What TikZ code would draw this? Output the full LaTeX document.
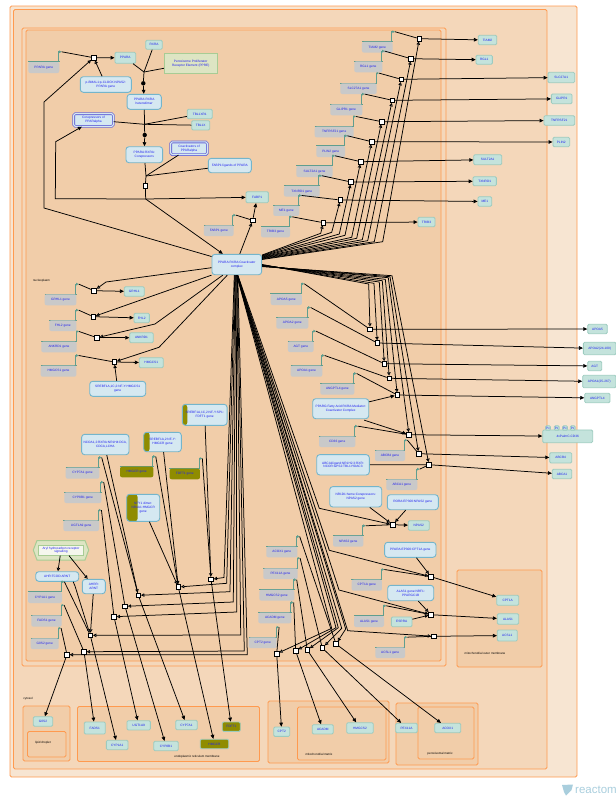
\documentclass[tikz,border=0pt]{standalone}
\usepackage{fontspec}
\setmainfont{Liberation Sans}
\usetikzlibrary{arrows.meta}

\definecolor{compline}{HTML}{FF9A4F}
\definecolor{compa}{HTML}{F7E5D2}
\definecolor{compb}{HTML}{F4D7BA}
\definecolor{compc}{HTML}{F1CDA9}
\definecolor{protfill}{HTML}{C4E3DC}
\definecolor{protline}{HTML}{9CCBBF}
\definecolor{cplxfill}{HTML}{D5E8F1}
\definecolor{cplxline}{HTML}{74B5CB}
\definecolor{setline}{HTML}{6A6AD8}
\definecolor{genefill}{HTML}{C9C9C9}
\definecolor{geneline}{HTML}{5F9E8F}
\definecolor{textblue}{HTML}{2020F0}
\definecolor{oliveband}{HTML}{8F8C00}
\definecolor{elemfill}{HTML}{DDE5C3}
\definecolor{elemline}{HTML}{A8CC94}
\definecolor{logoblue}{HTML}{A9CEDD}
\newcommand{\entityfont}{\fontsize{3.2}{3.9}\selectfont}
\newcommand{\compfont}{\fontsize{3}{3.6}\selectfont}

\begin{document}
\begin{tikzpicture}[
  x=1pt,y=-1pt,
  >={Triangle[length=4pt,width=3.6pt]},
  size/.style 2 args={minimum width=#1,minimum height=#2},
  entity/.style={text=textblue,font=\entityfont,align=center,inner sep=0pt},
  protein/.style={entity,draw=protline,fill=protfill,line width=.8,rounded corners=1.2},
  cplx/.style={entity,draw=cplxline,fill=cplxfill,line width=.9,rounded corners=3},
  setnode/.style={entity,draw=setline,double=cplxfill,double distance=1,line width=.8,fill=cplxfill,rounded corners=1.5},
  elem/.style={entity,draw=elemline,fill=elemfill,line width=.8},
  olivebox/.style={protein,fill=oliveband,draw=protline},
  band/.style={path picture={\fill[oliveband] (path picture bounding box.north west) rectangle ([xshift=#1]path picture bounding box.south west);}},
  gene/.style={entity,fill=genefill,rounded corners=2,
    append after command={\pgfextra{
      \draw[geneline,line width=.8] (\tikzlastnode.north west) -- (\tikzlastnode.north east);
      \draw[geneline,line width=.8,-{Triangle[open,length=2.6pt,width=2.6pt]}]
        ([xshift=-1pt]\tikzlastnode.north east) -- ++(0,-10) -- ++(3.2,0) coordinate (\tikzlastnode-tss);
    }}},
  rxn/.style={draw,fill=white,line width=.8,minimum size=4.4,inner sep=0pt},
  dot/.style={circle,fill=black,minimum size=4.4,inner sep=0pt},
  comp/.style={draw=compline,line width=.9,rounded corners=1.5},
  complabel/.style={font=\compfont,inner sep=0pt},
  link/.style={line width=.75},
  flow/.style={->,line width=.75},
  regul/.style={-{Triangle[fill=white,length=3.4pt,width=3.4pt]},line width=.75}
]
  \useasboundingbox (0,0) rectangle (616,796);

  % compartments
  \draw[comp,fill=compa] (10,6) rectangle (577,777);
  \draw[comp,fill=compb] (13.5,9.5) rectangle (547,769);
  \draw[comp,fill=compb] (22,28) rectangle (446,666);
  \draw[comp,fill=compc] (26,30) rectangle (441,661);
  \draw[comp,fill=compc] (23,706) rectangle (70,761);
  \draw[comp,fill=compc] (27.5,731.5) rectangle (66,757);
  \draw[comp,fill=compc] (77.5,706.5) rectangle (259.5,761.5);
  \draw[comp,fill=compc] (268,701) rectangle (389,763);
  \draw[comp,fill=compc] (297.5,707) rectangle (386,760);
  \draw[comp,fill=compc] (396,703) rectangle (478,765);
  \draw[comp,fill=compc] (418,707) rectangle (474,759);
  \draw[comp,fill=compc] (457,570) rectangle (542,667);
  \node[complabel] (nucleoplasm) at (41.5,280.3) {nucleoplasm};
  \node[complabel] (cytosol) at (28,699) {cytosol};
  \node[complabel] (droplet) at (43,742.5) {lipid droplet};
  \node[complabel] (ermembrane) at (197,757) {endoplasmic reticulum membrane};
  \node[complabel] (mitomatrix) at (319,754) {mitochondrial matrix};
  \node[complabel] (peromatrix) at (440,754) {peroxisomal matrix};
  \node[complabel] (mitoouter) at (485,653.3) {mitochondrial outer membrane};

  % PPARA and its partners
  \node[gene,size={31}{11}] (pparagene) at (43.8,67.5) {PPARA gene};
  \node[protein,size={20.7}{11}] (ppara) at (125.3,57.8) {PPARA};
  \node[protein,size={16.6}{9}] (rxra) at (154,44.8) {RXRA};
  \node[elem,size={52.7}{20}] (ppre) at (190.7,63.3) {Peroxisome Proliferator\\Receptor Element (PPRE)};
  \node[cplx,size={51}{15.6}] (bmal) at (105.8,84.5) {p-BMAL1:p-CLOCK:NPAS2:\\PPARA gene};
  \node[cplx,size={34.3}{15}] (hetero) at (144.2,101.8) {PPARA:RXRA\\heterodimer};
  \node[protein,size={25}{9.4}] (tblxr) at (199.8,114) {TBL1XR1};
  \node[protein,size={18}{9.3}] (tblx) at (200.7,125.3) {TBL1X};
  \node[setnode,size={39.6}{12.6}] (corepset) at (93.5,120) {Corepressors of\\PPARalpha};
  \node[cplx,size={36.7}{16}] (corepcx) at (144.3,154.7) {PPARA:RXRA:\\Corepressors};
  \node[setnode,size={36.6}{12.7}] (coactset) at (189,148.3) {Coactivators of\\PPARalpha};
  \node[cplx,size={43}{14.4}] (fabplig) at (229.8,165.5) {FABP1:ligands of PPARA};
  \node[protein,size={22.3}{11}] (fabp) at (257.2,197.2) {FABP1};
  \node[gene,size={29.7}{10.7}] (fabpgene) at (218.8,230.7) {FABP1 gene};
  \node[cplx,size={49.7}{20.4}] (coact) at (236.8,264.5) {PPARA:RXRA:Coactivator\\complex};

  % genes and products, upper right
  \node[gene,size={30.7}{10.7}] (tiamgene) at (377.3,47.3) {TIAM2 gene};
  \node[gene,size={28}{11}] (rglgene) at (368.3,66.8) {RGL1 gene};
  \node[gene,size={36.4}{10.7}] (slcgene) at (358.5,88.7) {SLC27A1 gene};
  \node[gene,size={32}{11}] (glipgene) at (346.3,109.8) {GLIPR1 gene};
  \node[gene,size={39}{10.6}] (tnfgene) at (334.2,132) {TNFRSF21 gene};
  \node[gene,size={28.7}{11}] (plingene) at (330.7,151.5) {PLIN2 gene};
  \node[gene,size={36.4}{11}] (sultgene) at (314.5,171.5) {SULT2A1 gene};
  \node[gene,size={35.7}{10.7}] (txngene) at (301.8,191.3) {TXNRD1 gene};
  \node[gene,size={26}{10.3}] (megene) at (286.3,210.8) {ME1 gene};
  \node[gene,size={29}{10.3}] (tribgene) at (275.5,232.2) {TRIB3 gene};
  \node[protein,size={18.4}{9.4}] (tiam) at (487.5,40) {TIAM2};
  \node[protein,size={16.3}{9}] (rgl) at (484.2,59.8) {RGL1};
  \node[protein,size={26.7}{10.4}] (slc) at (561.3,77.5) {SLC27A1};
  \node[protein,size={20.7}{9.7}] (glip) at (561.7,98.8) {GLIPR1};
  \node[protein,size={30.7}{9.6}] (tnf) at (559.3,120.5) {TNFRSF21};
  \node[protein,size={16.7}{9.4}] (plin) at (561.3,142) {PLIN2};
  \node[protein,size={28}{10}] (sult) at (487.7,159.7) {SULT2A1};
  \node[protein,size={23.3}{9}] (txn) at (484.7,181.2) {TXNRD1};
  \node[protein,size={13.7}{9.6}] (me) at (484.8,201.5) {ME1};
  \node[protein,size={17}{9.4}] (trib) at (426.5,222) {TRIB3};

  % genes and products, upper left
  \node[gene,size={31.6}{11}] (grhlgene) at (60.5,299.8) {GRHL1 gene};
  \node[gene,size={27}{10.7}] (fhlgene) at (62.8,325.7) {FHL2 gene};
  \node[gene,size={35.4}{10.6}] (ankgene) at (59,347) {ANKRD1 gene};
  \node[gene,size={35.6}{11}] (hmgsgene) at (58.5,371.2) {HMGCS1 gene};
  \node[protein,size={20}{9.6}] (grhl) at (134.3,291.5) {GRHL1};
  \node[protein,size={15.3}{9.4}] (fhl) at (141.7,318) {FHL2};
  \node[protein,size={23.6}{10}] (ank) at (141.5,337.7) {ANKRD1};
  \node[protein,size={24}{10}] (hmgs) at (151.3,362.7) {HMGCS1};
  \node[cplx,size={56}{15}] (srebhmgs) at (117.7,388.8) {SREBF1A,1C,2:NF-Y:HMGCS1\\gene};

  % genes and complexes, lower left
  \node[cplx,band=5pt,size={44.7}{21}] (srebfdft) at (204.7,414.8) {SREBF1A,1C,2:NF-Y:SP1:\\FDFT1 gene};
  \node[cplx,band=6pt,size={37.6}{19.4}] (srebhmgr) at (162.5,442) {SREBF1A,2:NF-Y:\\HMGCR gene};
  \node[cplx,band=11pt,size={33}{27}] (nfy) at (143.2,507.8) {NFY1 dimer:\\NR4A1:HMGCR\\gene};
  \node[cplx,size={47.3}{20.4}] (ncoa) at (105.3,444.5) {NCOA1,2:RXRA:NR1H4:DCA,\\CDCA,LCHA};
  \node[gene,fill=oliveband,size={33.3}{10.6}] (hmgrgene) at (136.7,472) {HMGCR gene};
  \node[gene,fill=oliveband,size={30.3}{10.6}] (fdftgene) at (184.8,474) {FDFT1 gene};
  \node[gene,size={33.6}{11}] (cypsagene) at (82.5,473.2) {CYP7A1 gene};
  \node[gene,size={37}{10.7}] (cypebgene) at (82.8,497.7) {CYP8B1 gene};
  \node[gene,size={35.7}{10.7}] (ugtgene) at (81.2,525.7) {UGT1A9 gene};

  \draw[elem,fill=elemfill,line width=1] (33.3,550) -- (37,540.5) -- (85,540.5) -- (88.7,550) -- (85,560) -- (37,560) -- cycle;
  \node[elem,fill=white!70!elemfill,size={45}{10}] (arylpath) at (61,550.2) {Aryl hydrocarbon receptor\\signalling};
  \node[cplx,size={43}{9.6}] (ahr) at (57.2,576.5) {AHR:TCDD:ARNT};
  \node[cplx,size={23}{14.4}] (ahrr) at (93.8,586.5) {AHRR:\\ARNT};
  \node[gene,size={34}{11}] (cypagene) at (45,597.5) {CYP1A1 gene};
  \node[gene,size={30.4}{11.4}] (fadsgene) at (46.5,621) {FADS1 gene};
  \node[gene,size={28}{10.7}] (gosgene) at (44.7,643.7) {G0S2 gene};

  % products in the lower compartments
  \node[protein,size={19.4}{9.6}] (gos) at (43,721.5) {G0S2};
  \node[protein,size={21}{12}] (fads) at (94.8,728) {FADS1};
  \node[protein,size={21.7}{9.4}] (cypa) at (117.2,745) {CYP1A1};
  \node[protein,size={23.3}{9.3}] (ugt) at (138.7,725.3) {UGT1A9};
  \node[protein,size={24.6}{9.4}] (cypeb) at (166,746) {CYP8B1};
  \node[protein,size={21.6}{9.4}] (cypsa) at (186.5,725) {CYP7A1};
  \node[olivebox,size={18}{9.3}] (fdft) at (231.3,726.7) {FDFT1};
  \node[olivebox,size={28.4}{9.4}] (hmgr) at (214.5,744) {HMGCR};
  \node[protein,size={16}{9.3}] (cpttwo) at (281.7,731.7) {CPT2};
  \node[protein,size={21}{9.3}] (acadm) at (322.8,729.3) {ACADM};
  \node[protein,size={26.6}{10.6}] (hmgstwo) at (360,728) {HMGCS2};
  \node[protein,size={21.6}{9.4}] (pex) at (406.5,728) {PEX11A};
  \node[protein,size={26}{9.4}] (acox) at (447.7,728) {ACOX1};

  % genes and products, lower middle
  \node[gene,size={31}{10.6}] (acoxgene) at (281.8,552) {ACOX1 gene};
  \node[gene,size={34.4}{10.7}] (pexgene) at (280.5,573.7) {PEX11A gene};
  \node[gene,size={35}{10.7}] (hmgstwogene) at (276.8,595.3) {HMGCS2 gene};
  \node[gene,size={33}{10.6}] (acadmgene) at (274.8,618) {ACADM gene};
  \node[gene,size={28}{10.7}] (cpttwogene) at (262.7,642.7) {CPT2 gene};

  % genes and products, right
  \node[gene,size={31.3}{11}] (apofivegene) at (286.3,299.5) {APOA5 gene};
  \node[gene,size={32}{11}] (apotwogene) at (292.3,323.2) {APOA2 gene};
  \node[gene,size={25.7}{10.7}] (agtgene) at (300.8,346.7) {AGT gene};
  \node[gene,size={31.6}{11}] (apoonegene) at (306.5,371.2) {APOA1 gene};
  \node[gene,size={34}{11}] (anggene) at (337.3,389.2) {ANGPTL4 gene};
  \node[gene,size={36.3}{10.7}] (cdgene) at (337.2,441.7) {CD36 gene};
  \node[gene,size={30}{10.7}] (abcbgene) at (390,455.7) {ABCB4 gene};
  \node[gene,size={31}{10.7}] (abcagene) at (401.8,484.7) {ABCA1 gene};
  \node[gene,size={30.3}{10.7}] (npasgene) at (348.2,541.3) {NPAS2 gene};
  \node[gene,size={30.3}{11}] (cptonegene) at (366.8,585.2) {CPT1A gene};
  \node[gene,size={30}{11}] (alasgene) at (369,621.5) {ALAS1 gene};
  \node[gene,size={29.7}{10.7}] (acslgene) at (390.2,652.7) {ACSL1 gene};

  \node[protein,size={19.6}{9.4}] (apofive) at (597.5,329) {APOA5};
  \node[protein,size={32.7}{12.4}] (apotwo) at (599.7,348.5) {APOA2(24-100)};
  \node[protein,size={14}{9.4}] (agt) at (594.7,366) {AGT};
  \node[protein,size={33.3}{12.4}] (apoone) at (599.3,381.5) {APOA1(25-267)};
  \node[protein,size={25.3}{9.4}] (ang) at (597.3,398) {ANGPTL4};
  \node[protein,size={50}{12.7}] (cdpalm) at (567.7,436.3) {4xPalmC-CD36};
  \node[protein,size={5}{4.6}] (palma) at (548,428) {Pc};
  \node[protein,size={5}{4.6}] (palmb) at (556.7,428) {Pc};
  \node[protein,size={5}{4.6}] (palmc) at (565,428) {Pc};
  \node[protein,size={5}{4.6}] (palmd) at (572.7,428) {Pc};
  \node[protein,size={22}{10.3}] (abcb) at (560.7,457.8) {ABCB4};
  \node[protein,size={19.4}{9.4}] (abca) at (562,474) {ABCA1};
  \node[cplx,size={56}{20}] (ppargcx) at (340.7,408.7) {PPARG:Fatty Acid:RXRA:Mediator:\\Coactivator Complex};
  \node[cplx,size={52.6}{20.3}] (abcacx) at (343,464.8) {ABCA1ligand:NR1H2,3:RXR:\\NCOR:GPS2:TBL1:HDAC3};
  \node[cplx,size={52}{20.3}] (nrcx) at (355.7,496.8) {NR1D1:heme:Corepressors:\\NPAS2 gene};
  \node[cplx,size={51}{15}] (roracx) at (412.8,502.2) {RORA:EP300:NPAS2 gene};
  \node[protein,size={21}{9.6}] (npas) at (418.8,525.5) {NPAS2};
  \node[cplx,size={51.3}{15}] (epcx) at (410.3,549.8) {PPARA:EP300:CPT1A gene};
  \node[cplx,size={46}{15.4}] (alascx) at (410.7,593) {ALAS1 gene:NRF1:\\PPARGC1B};
  \node[protein,size={20.7}{9.7}] (esrra) at (401.7,621.8) {ESRRA};
  \node[protein,size={22}{10}] (cptone) at (507.7,600.3) {CPT1A};
  \node[protein,size={21.4}{10.6}] (alas) at (508,619) {ALAS1};
  \node[protein,size={20}{11}] (acsl) at (507.3,635.5) {ACSL1};

  % reactions
  \node[rxn] (rppara) at (93.7,57.7) {};
  \node[dot] (dimer) at (143.3,83.3) {};
  \node[dot] (corepbind) at (144.7,135) {};
  \node[rxn] (rswap) at (145.3,186) {};
  \node[rxn] (rfabp) at (252.7,220.3) {};
  \node[rxn] (rtiam) at (419.3,38.7) {};
  \node[rxn] (rrgl) at (411,58.7) {};
  \node[rxn] (rslc) at (401.3,79.3) {};
  \node[rxn] (rglip) at (392.3,100.3) {};
  \node[rxn] (rtnf) at (381.7,121.7) {};
  \node[rxn] (rplin) at (371.7,141.7) {};
  \node[rxn] (rsult) at (360.7,161.7) {};
  \node[rxn] (rtxn) at (351,182) {};
  \node[rxn] (rme) at (340.3,200) {};
  \node[rxn] (rtrib) at (323.3,222.7) {};
  \node[rxn] (rgrhl) at (94,290.7) {};
  \node[rxn] (rfhl) at (93.3,316.7) {};
  \node[rxn] (rank) at (97,337.7) {};
  \node[rxn] (rhmgs) at (114.3,362) {};
  \node[rxn] (rapofive) at (370,329.3) {};
  \node[rxn] (rapotwo) at (377.3,343) {};
  \node[rxn] (ragt) at (384.3,363.7) {};
  \node[rxn] (rapoone) at (389.3,378.3) {};
  \node[rxn] (rang) at (397.3,395) {};
  \node[rxn] (rcd) at (409,434.7) {};
  \node[rxn] (rabcb) at (418.7,453.7) {};
  \node[rxn] (rabca) at (429,464.7) {};
  \node[rxn] (rnpas) at (392.7,524.7) {};
  \node[rxn] (rcptone) at (431,576.7) {};
  \node[rxn] (ralas) at (431,614.7) {};
  \node[rxn] (racsl) at (433.7,636.3) {};
  \node[rxn] (rfdft) at (211,579.3) {};
  \node[rxn] (rhmgr) at (178.3,587) {};
  \node[rxn] (rcypsa) at (138.3,595.3) {};
  \node[rxn] (rcypeb) at (125,606.3) {};
  \node[rxn] (rugt) at (114,616.7) {};
  \node[rxn] (rcypa) at (90.3,635.3) {};
  \node[rxn] (rfads) at (84,651.7) {};
  \node[rxn] (rgos) at (67,654.7) {};
  \node[rxn] (rcpttwo) at (276.7,653.7) {};
  \node[rxn] (racadm) at (295.7,651) {};
  \node[rxn] (rhmgstwo) at (307.3,650) {};
  \node[rxn] (rpex) at (322.3,648) {};
  \node[rxn] (racox) at (336,644) {};

  % upper left cascade
  \coordinate (joina) at (144,72);
  \coordinate (joinb) at (144.5,124.3);
  \coordinate (joinc) at (146,176);
  \coordinate (splitd) at (145.7,199);
  \draw[link] (pparagene-tss) -- (rppara);
  \draw[flow] (rppara) -- (ppara);
  \draw[regul] (bmal) -- (rppara);
  \draw[regul] ([yshift=8pt]coact.west) -- (44,208) -- (44,102) -- (rppara);
  \draw[link] (ppara) -- (joina);
  \draw[link] (rxra) -- (joina);
  \draw[link] (ppre) -- (joina);
  \draw[link] (joina) -- (dimer);
  \draw[flow] (dimer) -- (hetero);
  \draw[link] (hetero) -- (joinb);
  \draw[link] (tblxr) -- (joinb);
  \draw[link] (tblx) -- (joinb);
  \draw[link] (corepset) -- (joinb);
  \draw[link] (joinb) -- (corepbind);
  \draw[flow] (corepbind) -- (corepcx);
  \draw[link] (corepcx) -- (joinc);
  \draw[link] (coactset) -- (joinc);
  \draw[link] (fabplig) -- (joinc);
  \draw[link] (joinc) -- (rswap);
  \draw[link] (rswap) -- (splitd);
  \draw[flow] (splitd) -- (fabp);
  \draw[flow] (splitd) -- (55.3,198.7) -- (55.7,141.7) -- (corepset);
  \draw[flow] (splitd) -- ([xshift=-14pt]coact.north);
  \draw[link] (fabpgene-tss) -- (rfabp);
  \draw[flow] (rfabp) -- (fabp);
  \draw[regul] ([xshift=3pt]coact.north) -- (rfabp);

  % upper right targets
  \draw[regul] ([yshift=9.5pt]coact.east) -- (320.7,233.3) -- (rtrib);
  \draw[regul] ([yshift=9pt]coact.east) -- (331.7,232.3) -- (rme);
  \draw[regul] ([yshift=8.5pt]coact.east) -- (339.3,234) -- (rtxn);
  \draw[regul] ([yshift=8pt]coact.east) -- (345,235.3) -- (rsult);
  \draw[regul] ([yshift=7.5pt]coact.east) -- (351.7,237.3) -- (rplin);
  \draw[regul] ([yshift=7pt]coact.east) -- (356.7,238.3) -- (rtnf);
  \draw[regul] ([yshift=6.5pt]coact.east) -- (362.3,239.7) -- (rglip);
  \draw[regul] ([yshift=6pt]coact.east) -- (367.7,240.7) -- (rslc);
  \draw[regul] ([yshift=5.5pt]coact.east) -- (374.3,241.7) -- (rrgl);
  \draw[regul] ([yshift=5pt]coact.east) -- (382.7,241.7) -- (rtiam);
  \draw[link] (tiamgene-tss) -- (rtiam);
  \draw[link] (rglgene-tss) -- (rrgl);
  \draw[link] (slcgene-tss) -- (rslc);
  \draw[link] (glipgene-tss) -- (rglip);
  \draw[link] (tnfgene-tss) -- (rtnf);
  \draw[link] (plingene-tss) -- (rplin);
  \draw[link] (sultgene-tss) -- (rsult);
  \draw[link] (txngene-tss) -- (rtxn);
  \draw[link] (megene-tss) -- (rme);
  \draw[link] (tribgene-tss) -- (rtrib);
  \draw[flow] (rtiam) -- (tiam);
  \draw[flow] (rrgl) -- (rgl);
  \draw[flow] (rslc) -- (slc);
  \draw[flow] (rglip) -- (glip);
  \draw[flow] (rtnf) -- (tnf);
  \draw[flow] (rplin) -- (plin);
  \draw[flow] (rsult) -- (sult);
  \draw[flow] (rtxn) -- (txn);
  \draw[flow] (rme) -- (me);
  \draw[flow] (rtrib) -- (trib);

  % right targets
  \draw[regul] ([yshift=0pt]coact.east) -- (368.7,284) -- (rapofive);
  \draw[regul] ([yshift=-.3pt]coact.east) -- (374,283.3) -- (rapotwo);
  \draw[regul] ([yshift=-.6pt]coact.east) -- (379.3,282) -- (ragt);
  \draw[regul] ([yshift=-.9pt]coact.east) -- (382.3,280.7) -- (rapoone);
  \draw[regul] ([yshift=-1.2pt]coact.east) -- (385.3,279.3) -- (rang);
  \draw[regul] ([yshift=-1.5pt]coact.east) -- (388.3,277.7) -- (rcd);
  \draw[regul] ([yshift=-1.8pt]coact.east) -- (390,276.7) -- (rabcb);
  \draw[regul] ([yshift=-2.1pt]coact.east) -- (392,275.7) -- (rabca);
  \draw[link] (apofivegene-tss) -- (rapofive);
  \draw[link] (apotwogene-tss) -- (rapotwo);
  \draw[link] (agtgene-tss) -- (ragt);
  \draw[link] (apoonegene-tss) -- (rapoone);
  \draw[link] (anggene-tss) -- (rang);
  \draw[link] (cdgene-tss) -- (rcd);
  \draw[link] (abcbgene-tss) -- (rabcb);
  \draw[link] (abcagene-tss) -- (rabca);
  \draw[flow] (rapofive) -- (apofive);
  \draw[flow] (rapotwo) -- (apotwo);
  \draw[flow] (ragt) -- (agt);
  \draw[flow] (rapoone) -- (apoone);
  \draw[flow] (rang) -- (ang);
  \draw[flow] (rcd) -- (cdpalm);
  \draw[flow] (rabcb) -- (abcb);
  \draw[flow] (rabca) -- (abca);
  \draw[flow] (ppargcx) -- (rang);
  \draw[flow] ([yshift=-1pt,xshift=-5pt]ppargcx.south east) -- (rcd);
  \draw[link] (abcacx) -- (rabca);

  % left targets
  \draw[regul] ([yshift=-3.2pt]coact.west) -- (106,282) -- (rgrhl);
  \draw[regul] (coact.south west) -- (rfhl);
  \draw[regul] ([xshift=-14pt]coact.south) -- (155,324) -- (rank);
  \draw[regul] ([xshift=-9.5pt]coact.south) -- (159,347.3) -- (rhmgs);
  \draw[link] (grhlgene-tss) -- (rgrhl);
  \draw[link] (fhlgene-tss) -- (rfhl);
  \draw[link] (ankgene-tss) -- (rank);
  \draw[link] (hmgsgene-tss) -- (rhmgs);
  \draw[regul] (srebhmgs) -- (rhmgs);
  \draw[flow] (rgrhl) -- (grhl);
  \draw[flow] (rfhl) -- (fhl);
  \draw[flow] (rank) -- (ank);
  \draw[flow] (rhmgs) -- (hmgs);

  % lower left targets
  \draw[regul] ([xshift=-2.5pt]coact.south) -- (224,577.5) -- (rfdft);
  \draw[regul] ([xshift=-2pt]coact.south) -- (226.7,583.3) -- (rhmgr);
  \draw[regul] ([xshift=-1.5pt]coact.south) -- (230,591.7) -- (rcypsa);
  \draw[regul] ([xshift=-1pt]coact.south) -- (233.3,602) -- (rcypeb);
  \draw[regul] ([xshift=-.5pt]coact.south) -- (236.7,612) -- (rugt);
  \draw[regul] ([xshift=0pt]coact.south) -- (240.7,635) -- (rcypa);
  \draw[regul] ([xshift=.5pt]coact.south) -- (244.3,651) -- (rfads);
  \draw[regul] ([xshift=1pt]coact.south) -- (247.3,654.7) -- (rgos);
  \draw[regul] (srebfdft) -- (rfdft);
  \draw[link] (fdftgene-tss) -- (rfdft);
  \draw[regul] (srebhmgr) -- (rhmgr);
  \draw[link] (hmgrgene-tss) -- (rhmgr);
  \draw[regul] (nfy) -- (rhmgr);
  \draw[regul] ([xshift=1.5pt]ncoa.south) -- (rcypsa);
  \draw[link] (cypsagene-tss) -- (rcypsa);
  \draw[link] (cypebgene-tss) -- (rcypeb);
  \draw[link] (ugtgene-tss) -- (rugt);
  \draw[regul] (arylpath) -- (ahr);
  \draw[regul] ([xshift=8pt]arylpath.south) -- (ahrr);
  \draw[link] (cypagene-tss) -- (rcypa);
  \draw[regul] ([xshift=16pt]ahr.south) -- (75,586) -- (rcypa);
  \draw[regul] (ahrr) -- (rcypa);
  \draw[link] (fadsgene-tss) -- (rfads);
  \draw[link] (gosgene-tss) -- (rgos);
  \draw[flow] (rfdft) -- (fdft);
  \draw[flow] (rhmgr) -- (hmgr);
  \draw[flow] (rcypsa) -- (cypsa);
  \draw[flow] (rcypeb) -- (cypeb);
  \draw[flow] (rugt) -- (ugt);
  \draw[flow] (rcypa) -- (cypa);
  \draw[flow] (rfads) -- (fads);
  \draw[flow] (rgos) -- (gos);

  % lower right targets
  \draw[regul] ([xshift=1pt]coact.south) -- (319.3,508.3) -- (rnpas);
  \draw[regul] ([xshift=.8pt]coact.south) -- (329.3,550.3) -- (rcptone);
  \draw[regul] ([xshift=.6pt]coact.south) -- (339,590) -- (ralas);
  \draw[regul] ([xshift=.4pt]coact.south) -- (347.7,630.7) -- (racsl);
  \draw[regul] ([xshift=0pt]coact.south) -- (331.7,628.3) -- (rcpttwo);
  \draw[regul] ([xshift=.1pt]coact.south) -- (336,627.7) -- (racadm);
  \draw[regul] ([xshift=.2pt]coact.south) -- (338.3,627.7) -- (rhmgstwo);
  \draw[regul] ([xshift=.3pt]coact.south) -- (341.7,628.3) -- (rpex);
  \draw[regul] ([xshift=.4pt]coact.south) -- (345.7,629) -- (racox);
  \draw[regul] (nrcx) -- (rnpas);
  \draw[regul] (roracx) -- (rnpas);
  \draw[link] (npasgene-tss) -- (rnpas);
  \draw[flow] (rnpas) -- (npas);
  \draw[regul] (epcx) -- (rcptone);
  \draw[link] (cptonegene-tss) -- (rcptone);
  \draw[flow] (rcptone) -- (cptone);
  \draw[regul] (alascx) -- (ralas);
  \draw[link] (alasgene-tss) -- (ralas);
  \draw[regul] (esrra) -- (ralas);
  \draw[flow] (ralas) -- (alas);
  \draw[link] (acslgene-tss) -- (racsl);
  \draw[flow] (racsl) -- (acsl);
  \draw[link] (cpttwogene-tss) -- (rcpttwo);
  \draw[link] (acadmgene-tss) -- (racadm);
  \draw[link] (hmgstwogene-tss) -- (rhmgstwo);
  \draw[link] (pexgene-tss) -- (rpex);
  \draw[link] (acoxgene-tss) -- (racox);
  \draw[flow] (rcpttwo) -- (cpttwo);
  \draw[flow] (racadm) -- (acadm);
  \draw[flow] (rhmgstwo) -- (hmgstwo);
  \draw[flow] (rpex) -- (pex);
  \draw[flow] (racox) -- (acox);

  % logo
  \fill[logoblue] (562,785) -- (573,784.5) -- (571.5,790) -- (566,795.5) -- (564,792) -- cycle;
  \node[anchor=west,inner sep=0pt,text=logoblue,font=\fontsize{11.5}{12}\selectfont] (logotext) at (575,790) {reactom};
\end{tikzpicture}
\end{document}
